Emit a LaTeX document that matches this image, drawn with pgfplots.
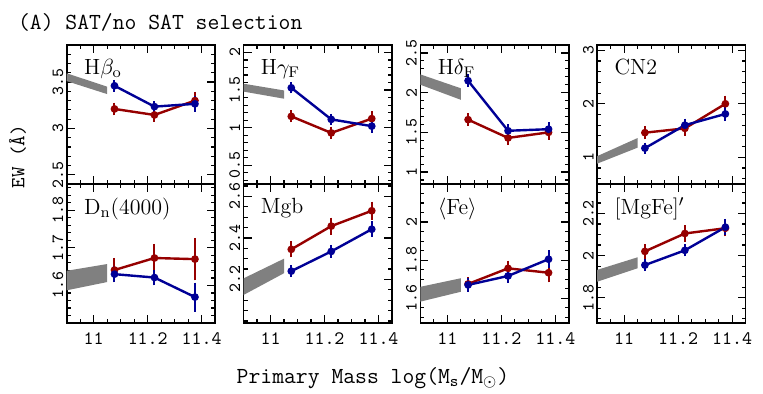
\documentclass[border=0pt]{standalone}
\usepackage{fontspec}
\usepackage{pgfplots}
\pgfplotsset{compat=1.18}

\definecolor{dblue}{RGB}{0,0,150}
\definecolor{dred}{RGB}{150,0,0}
\definecolor{bandgray}{RGB}{128,128,128}

\tikzset{lbl/.style={anchor=north west, font=\fontsize{11}{12}\selectfont}}

\pgfplotsset{
  panel/.style={
    scale only axis, width=74.25pt, height=69.5pt,
    xmin=10.9, xmax=11.45,
    xtick={11,11.2,11.4},
    minor xtick={10.9,10.95,11.05,11.1,11.15,11.25,11.3,11.35,11.45},
    tick align=inside,
    major tick length=4pt, minor tick length=2pt,
    tick style={black, line width=0.6pt},
    axis line style={line width=0.8pt},
    xticklabel style={font=\fontsize{9.5}{11}\selectfont\ttfamily},
    yticklabel style={font=\fontsize{8.5}{10}\selectfont\ttfamily,
      rotate=90, anchor=south, inner sep=1.5pt},
    /pgf/number format/assume math mode=true,
    anchor=north west,
  },
  toprow/.style={xticklabels={}},
  botrow/.style={xticklabel style={yshift=-1.5pt}},
  redser/.style={dred, line width=1.2pt, mark=*, mark size=1.3pt,
    error bars/.cd, y dir=both, y explicit,
    error bar style={line width=1pt},
    error mark options={line width=1pt, mark size=2pt}},
  blueser/.style={dblue, line width=1.2pt, mark=*, mark size=1.3pt,
    error bars/.cd, y dir=both, y explicit,
    error bar style={line width=1pt},
    error mark options={line width=1pt, mark size=2pt}},
  band/.style={fill=bandgray, draw=none, forget plot},
}

\begin{document}
\begin{tikzpicture}[x=1pt,y=1pt]
\path[use as bounding box] (0,0) rectangle (381.5,-197);

\node[anchor=base west, font=\fontsize{11.5}{13}\selectfont\ttfamily] at (5.5,-14.7) {(A) SAT/no SAT selection};
\node[rotate=90, font=\fontsize{10}{12}\selectfont\ttfamily] at (8.75,-78.5) {EW (Å)};
\node[anchor=base, font=\fontsize{11.5}{13}\selectfont\ttfamily] at (186.5,-191.5) {Primary Mass log(M$_{\mathtt{s}}$/M$_\odot$)};

% ---- top row ----
\begin{axis}[panel, toprow, at={(33.35pt,-22.5pt)},
  ymin=2.4, ymax=3.9, ytick={2.5,3,3.5},
  minor ytick={2.4,2.6,2.7,2.8,2.9,3.1,3.2,3.3,3.4,3.6,3.7,3.8}]
  \addplot[band] coordinates {(10.9,3.595) (11.05,3.45) (11.05,3.37) (10.9,3.51)};
  \addplot[redser] coordinates {(11.077,3.21)+-(0,0.025) (11.225,3.145)+-(0,0.03) (11.375,3.30)+-(0,0.05)};
  \addplot[blueser] coordinates {(11.077,3.46)+-(0,0.02) (11.225,3.235)+-(0,0.02) (11.375,3.265)+-(0,0.04)};
  \node[lbl] at (rel axis cs:0.07,0.95) {H$\beta_{\rm o}$};
\end{axis}

\begin{axis}[panel, toprow, at={(121.75pt,-22.5pt)},
  ymin=0.25, ymax=2.1, ytick={0.5,1,1.5,2},
  minor ytick={0.3,0.4,0.6,0.7,0.8,0.9,1.1,1.2,1.3,1.4,1.6,1.7,1.8,1.9,2.1}]
  \addplot[band] coordinates {(10.9,1.585) (11.05,1.495) (11.05,1.385) (10.9,1.48)};
  \addplot[redser] coordinates {(11.077,1.15)+-(0,0.025) (11.225,0.93)+-(0,0.03) (11.375,1.12)+-(0,0.05)};
  \addplot[blueser] coordinates {(11.077,1.53)+-(0,0.02) (11.225,1.11)+-(0,0.02) (11.375,1.02)+-(0,0.035)};
  \node[lbl] at (rel axis cs:0.07,0.95) {H$\gamma_{\rm F}$};
\end{axis}

\begin{axis}[panel, toprow, at={(210.15pt,-22.5pt)},
  ymin=0.85, ymax=2.6, ytick={1,1.5,2,2.5},
  minor ytick={0.9,1.1,1.2,1.3,1.4,1.6,1.7,1.8,1.9,2.1,2.2,2.3,2.4}]
  \addplot[band] coordinates {(10.9,2.23) (11.05,2.055) (11.05,1.91) (10.9,2.10)};
  \addplot[redser] coordinates {(11.077,1.66)+-(0,0.03) (11.225,1.43)+-(0,0.04) (11.375,1.50)+-(0,0.04)};
  \addplot[blueser] coordinates {(11.077,2.15)+-(0,0.03) (11.225,1.52)+-(0,0.03) (11.375,1.54)+-(0,0.04)};
  \node[lbl] at (rel axis cs:0.07,0.95) {H$\delta_{\rm F}$};
\end{axis}

\begin{axis}[panel, toprow, at={(298.55pt,-22.5pt)},
  ymin=0.5, ymax=3.1, ytick={1,2,3},
  minor ytick={0.6,0.8,1.2,1.4,1.6,1.8,2.2,2.4,2.6,2.8}]
  \addplot[band] coordinates {(10.9,1.02) (11.05,1.36) (11.05,1.18) (10.9,0.88)};
  \addplot[redser] coordinates {(11.077,1.46)+-(0,0.05) (11.225,1.54)+-(0,0.06) (11.375,2.0)+-(0,0.08)};
  \addplot[blueser] coordinates {(11.077,1.17)+-(0,0.03) (11.225,1.60)+-(0,0.05) (11.375,1.81)+-(0,0.06)};
  \node[lbl] at (rel axis cs:0.07,0.95) {CN2};
\end{axis}

% ---- bottom row ----
\begin{axis}[panel, botrow, at={(33.35pt,-92pt)},
  ymin=1.5, ymax=1.87, ytick={1.6,1.7,1.8},
  minor ytick={1.52,1.54,1.56,1.58,1.62,1.64,1.66,1.68,1.72,1.74,1.76,1.78,1.82,1.84,1.86}]
  \addplot[band] coordinates {(10.9,1.639) (11.05,1.657) (11.05,1.609) (10.9,1.587)};
  \addplot[redser] coordinates {(11.077,1.641)+-(0,0.022) (11.225,1.673)+-(0,0.027) (11.375,1.670)+-(0,0.046)};
  \addplot[blueser] coordinates {(11.077,1.630)+-(0,0.010) (11.225,1.621)+-(0,0.010) (11.375,1.569)+-(0,0.028)};
  \node[lbl] at (rel axis cs:0.07,0.95) {D$_{\rm n}$(4000)};
\end{axis}

\begin{axis}[panel, botrow, at={(121.75pt,-92pt)},
  ymin=1.99, ymax=2.66, ytick={2.2,2.4,2.6},
  minor ytick={2.0,2.05,2.1,2.15,2.25,2.3,2.35,2.45,2.5,2.55,2.65}]
  \addplot[band] coordinates {(10.9,2.205) (11.05,2.30) (11.05,2.23) (10.9,2.125)};
  \addplot[redser] coordinates {(11.077,2.345)+-(0,0.02) (11.225,2.457)+-(0,0.022) (11.375,2.531)+-(0,0.025)};
  \addplot[blueser] coordinates {(11.077,2.24)+-(0,0.01) (11.225,2.335)+-(0,0.012) (11.375,2.442)+-(0,0.018)};
  \node[lbl] at (rel axis cs:0.07,0.95) {Mgb};
\end{axis}

\begin{axis}[panel, botrow, at={(210.15pt,-92pt)},
  ymin=1.47, ymax=2.2, ytick={1.6,1.8,2},
  minor ytick={1.5,1.55,1.65,1.7,1.75,1.85,1.9,1.95,2.05,2.1,2.15}]
  \addplot[band] coordinates {(10.9,1.66) (11.05,1.705) (11.05,1.634) (10.9,1.582)};
  \addplot[redser] coordinates {(11.077,1.675)+-(0,0.015) (11.225,1.757)+-(0,0.02) (11.375,1.734)+-(0,0.03)};
  \addplot[blueser] coordinates {(11.077,1.67)+-(0,0.015) (11.225,1.717)+-(0,0.015) (11.375,1.805)+-(0,0.025)};
  \node[lbl] at (rel axis cs:0.07,0.95) {$\langle$Fe$\rangle$};
\end{axis}

\begin{axis}[panel, botrow, at={(298.55pt,-92pt)},
  ymin=1.68, ymax=2.34, ytick={1.8,2,2.2},
  minor ytick={1.7,1.75,1.85,1.9,1.95,2.05,2.1,2.15,2.25,2.3}]
  \addplot[band] coordinates {(10.9,1.932) (11.05,1.992) (11.05,1.94) (10.9,1.876)};
  \addplot[redser] coordinates {(11.077,2.02)+-(0,0.015) (11.225,2.105)+-(0,0.02) (11.375,2.13)+-(0,0.02)};
  \addplot[blueser] coordinates {(11.077,1.955)+-(0,0.01) (11.225,2.025)+-(0,0.01) (11.375,2.135)+-(0,0.02)};
  \node[lbl] at (rel axis cs:0.07,0.95) {[MgFe]$'$};
\end{axis}
\end{tikzpicture}
\end{document}
